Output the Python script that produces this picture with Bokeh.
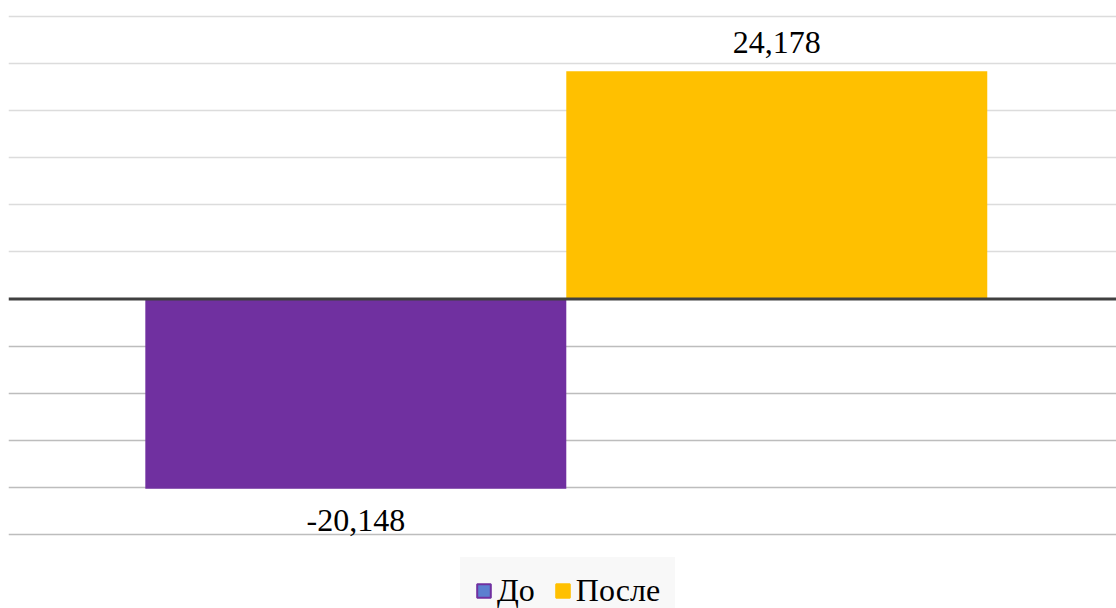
from bokeh.plotting import figure
from bokeh.models import (ColumnDataSource, Range1d, Span, Grid, FixedTicker,
                          Legend, LegendItem)
from bokeh.core.properties import value
from bokeh.embed import file_html
from bokeh.resources import INLINE

# ---- data ----
series = ["До", "После"]
values = [-20.148, 24.178]
colors = ["#7030A0", "#FFC000"]
legend_fill = ["#5B7FD0", "#FFC000"]
legend_line = ["#7030A0", "#FFC000"]
grid_pos_ticks = [5, 10, 15, 20, 25, 30]
grid_neg_ticks = [-5, -10, -15, -20, -25]

FONT = "Liberation Serif"

x_pos = [-0.5, 0.5]
labels = [f"{v:.3f}".replace(".", ",") for v in values]
offsets = [-29 if v >= 0 else 32 for v in values]

src = ColumnDataSource(dict(x=x_pos, top=values, color=colors, label=labels, yoff=offsets))

# frame covers whole canvas except 8px at left; y scale: 518px per 55 units
ppu = 518 / 55.0
p = figure(width=1116, height=608, output_backend="svg", toolbar_location=None,
           x_range=Range1d(-1.325, 1.307),
           y_range=Range1d(-25 - 74 / ppu, 30 + 16 / ppu),
           min_border_left=8, min_border_right=0, min_border_top=0, min_border_bottom=0)
p.xaxis.visible = False
p.yaxis.visible = False
p.xgrid.visible = False
p.ygrid.visible = False
p.outline_line_color = None
p.background_fill_color = "white"
p.border_fill_color = "white"

g1 = Grid(dimension=1, ticker=FixedTicker(ticks=grid_pos_ticks),
          grid_line_color="#dcdcdc", grid_line_width=1.5)
g2 = Grid(dimension=1, ticker=FixedTicker(ticks=grid_neg_ticks),
          grid_line_color="#bdbdbd", grid_line_width=1.5)
p.add_layout(g1)
p.add_layout(g2)

p.vbar(x="x", top="top", bottom=0, width=1.0, fill_color="color", line_color=None, source=src)

# legend proxies: zero-height, hidden under the zero line
items = []
for i, name in enumerate(series):
    r = p.vbar(x=[x_pos[i]], top=[0], bottom=0, width=0.01, fill_color=legend_fill[i],
               line_color=legend_line[i], line_width=2)
    items.append(LegendItem(label=name, renderers=[r]))

p.add_layout(Span(location=0, dimension="width", line_color="#404040", line_width=3))

p.text(x="x", y="top", text="label", y_offset="yoff", source=src,
       text_align="center", text_baseline="alphabetic",
       text_font=value(FONT), text_font_size="32px", text_color="#000000")

legend = Legend(items=items, orientation="horizontal", location=(452, -16),
                label_text_font=FONT, label_text_font_size="32px",
                label_text_color="#000000", glyph_width=17, glyph_height=17,
                background_fill_color="#f8f8f8", background_fill_alpha=1.0,
                border_line_color="#f8f8f8", border_line_alpha=1.0,
                spacing=19, padding=14, margin=0, label_standoff=5)
p.add_layout(legend)

open("out.html", "w").write(file_html(p, INLINE))
